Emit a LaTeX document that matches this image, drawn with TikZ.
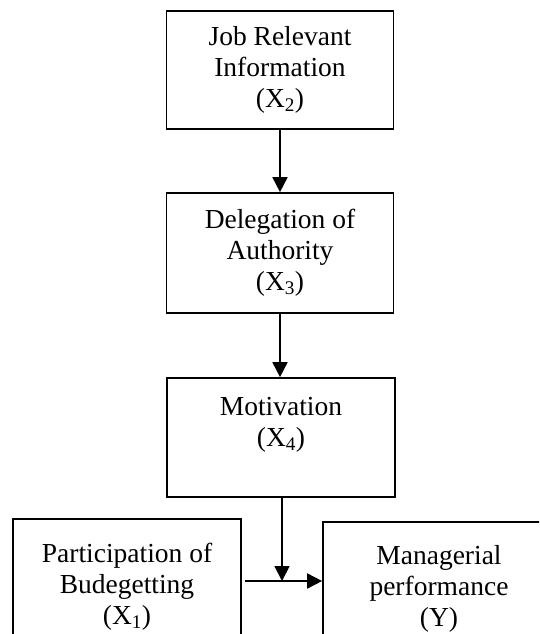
\documentclass[tikz,border=0pt]{standalone}
\usepackage{fontspec}
\setmainfont{Liberation Serif}
\usetikzlibrary{arrows.meta}
\newcommand{\idx}[1]{\textsubscript{#1}}

\begin{document}
\begin{tikzpicture}
[x=1pt,y=-1pt,%
  every node/.style={draw,line width=1.7pt,inner sep=0pt,align=center,%
    font=\fontsize{27.5}{31}\selectfont},%
  link/.style={line width=1.8pt,-{Triangle[length=15pt,width=15pt]}}]
\clip (0,0) rectangle (539,634);
%%
\node[minimum width=227,minimum height=118] (jobinfo) at (280,70)
  {Job Relevant\\Information\\(X\idx{2})};
%%
\node[minimum width=227,minimum height=120] (delegation) at (280,253)
  {Delegation of\\Authority\\(X\idx{3})};
%%
\node[minimum width=228,minimum height=119] (motivation) at (281,437.5)
  {Motivation\\(X\idx{4})\\\mbox{}};
%%
\node[minimum width=228,minimum height=136] (budget) at (127,587)
  {Participation of\\Budegetting\\(X\idx{1})};
%%
\node[minimum width=232,minimum height=134] (performance) at (439,589)
  {Managerial\\performance\\(Y)};
%%
\coordinate (meet) at (282,581);
\path
\foreach \startNode/\endNode in {jobinfo/delegation, delegation/motivation}
{
  (\startNode.south) edge[link] (\startNode.south |- \endNode.north)
};
\draw[link] (motivation.south -| meet) -- (meet);
\draw[link] ([xshift=3pt]budget.east |- meet) -- (performance.west |- meet);
\end{tikzpicture}
\end{document}
